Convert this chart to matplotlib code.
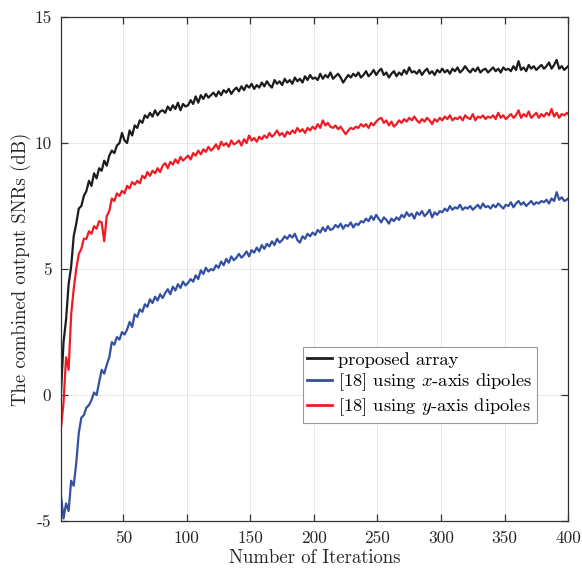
import matplotlib
matplotlib.use("Agg")
import matplotlib.pyplot as plt

plt.rcParams['font.family'] = 'serif'
plt.rcParams['font.serif'] = ['cmr10', 'DejaVu Serif']
plt.rcParams['mathtext.fontset'] = 'cm'
plt.rcParams['axes.unicode_minus'] = False

iterations = [*range(1, 400, 2), 400]

proposed = [
    0.1, 2.1, 3.0, 4.4, 5.1, 6.3, 6.8, 7.4, 7.5, 7.9,
    8.1, 8.5, 8.3, 8.8, 8.6, 9.0, 8.9, 9.3, 9.1, 9.5,
    9.7, 9.6, 9.9, 10.0, 10.4, 10.1, 10.0, 10.5, 10.3, 10.7,
    10.6, 10.9, 10.8, 11.1, 11.0, 11.2, 11.05, 11.3, 11.1, 11.25,
    11.3, 11.2, 11.45, 11.3, 11.5, 11.35, 11.6, 11.3, 11.55, 11.45,
    11.5, 11.7, 11.55, 11.85, 11.6, 11.9, 11.75, 11.95, 11.8, 11.9,
    12.0, 11.85, 12.05, 11.9, 12.1, 12.0, 12.15, 11.95, 12.1, 12.2,
    12.05, 12.25, 12.1, 12.3, 12.2, 12.35, 12.15, 12.3, 12.2, 12.4,
    12.25, 12.45, 12.3, 12.2, 12.5, 12.35, 12.45, 12.3, 12.55, 12.4,
    12.5, 12.35, 12.6, 12.45, 12.55, 12.4, 12.65, 12.5, 12.7, 12.55,
    12.6, 12.5, 12.75, 12.55, 12.7, 12.6, 12.8, 12.55, 12.65, 12.75,
    12.6, 12.4, 12.55, 12.7, 12.6, 12.75, 12.65, 12.8, 12.6, 12.7,
    12.85, 12.65, 12.75, 12.9, 12.7, 12.85, 12.95, 12.7, 12.8, 12.6,
    12.75, 12.85, 12.65, 12.8, 12.7, 12.9, 12.75, 13.0, 12.8, 12.85,
    12.75, 12.9, 12.7, 12.85, 12.95, 12.75, 12.85, 12.7, 12.9, 12.8,
    12.95, 12.8, 12.9, 12.75, 12.95, 12.85, 13.0, 12.8, 12.9, 13.05,
    12.9, 12.8, 12.95, 12.85, 13.0, 12.8, 12.9, 12.95, 12.8, 12.9,
    13.0, 12.85, 12.95, 12.8, 13.0, 12.9, 12.95, 12.85, 13.05, 12.9,
    13.25, 12.9, 13.0, 12.85, 13.1, 12.95, 13.05, 12.9, 13.0, 13.1,
    12.95, 13.05, 13.2, 12.95, 13.1, 13.3, 12.95, 13.05, 12.9, 13.0,
    13.05,
]

x_dipoles = [
    -4.0, -4.9, -4.3, -4.6, -3.4, -3.6, -2.7, -1.5, -0.9, -0.8,
    -0.5, -0.4, -0.2, 0.1, 0.0, 0.5, 1.0, 0.85, 1.2, 1.5,
    2.1, 2.0, 2.3, 2.2, 2.5, 2.4, 2.6, 2.9, 2.7, 3.2,
    3.1, 3.4, 3.3, 3.6, 3.5, 3.8, 3.65, 3.9, 3.75, 4.0,
    3.85, 4.05, 4.2, 4.0, 4.3, 4.15, 4.4, 4.25, 4.5, 4.35,
    4.45, 4.6, 4.5, 4.75, 4.6, 4.95, 4.8, 5.05, 4.9, 5.0,
    4.95, 5.15, 5.05, 5.3, 5.15, 5.4, 5.25, 5.5, 5.35, 5.45,
    5.6, 5.45, 5.55, 5.7, 5.5, 5.75, 5.65, 5.85, 5.7, 5.95,
    5.8, 6.0, 5.9, 6.1, 5.95, 6.2, 6.05, 6.15, 6.3, 6.2,
    6.35, 6.25, 6.4, 6.15, 6.05, 6.3, 6.2, 6.4, 6.3, 6.45,
    6.35, 6.55, 6.45, 6.65, 6.5, 6.7, 6.55, 6.6, 6.75, 6.65,
    6.8, 6.6, 6.75, 6.7, 6.85, 6.65, 6.8, 6.75, 6.9, 6.85,
    7.0, 6.9, 7.1, 6.95, 7.15, 7.0, 6.85, 7.05, 6.95, 6.8,
    7.0, 6.9, 7.05, 6.95, 7.15, 7.05, 7.25, 7.1, 7.2, 7.0,
    7.25, 7.15, 7.3, 7.1, 7.2, 7.35, 7.05, 7.25, 7.15, 7.3,
    7.25, 7.4, 7.3, 7.5, 7.35, 7.45, 7.4, 7.55, 7.35, 7.45,
    7.4, 7.5, 7.35, 7.45, 7.55, 7.4, 7.6, 7.45, 7.5, 7.4,
    7.55, 7.45, 7.6, 7.5, 7.4, 7.55, 7.5, 7.65, 7.45, 7.6,
    7.7, 7.55, 7.65, 7.5, 7.6, 7.7, 7.55, 7.65, 7.6, 7.7,
    7.65, 7.75, 7.6, 7.8, 7.7, 8.05, 7.75, 7.85, 7.7, 7.75,
    7.8,
]

y_dipoles = [
    -1.3, -0.3, 1.5, 1.0, 3.2, 4.2, 5.0, 5.6, 5.8, 6.2,
    6.2, 6.5, 6.4, 6.7, 6.6, 6.9, 6.85, 6.1, 7.1, 7.3,
    7.8, 7.7, 8.0, 7.9, 8.1, 8.0, 8.3, 8.2, 8.45, 8.35,
    8.5, 8.4, 8.7, 8.6, 8.85, 8.7, 8.9, 8.8, 9.0, 8.85,
    9.1, 9.2, 9.0, 9.25, 9.15, 9.35, 9.2, 9.45, 9.3, 9.4,
    9.5, 9.35, 9.6, 9.5, 9.7, 9.55, 9.75, 9.65, 9.85, 9.7,
    9.8, 9.95, 9.75, 10.05, 9.9, 10.0, 9.85, 10.1, 9.95, 10.0,
    10.1, 9.9, 10.15, 10.0, 10.3, 10.1, 10.2, 10.05, 10.25, 10.15,
    10.3, 10.2, 10.4, 10.25, 10.35, 10.5, 10.3, 10.4, 10.25, 10.45,
    10.35, 10.5, 10.4, 10.6, 10.45, 10.55, 10.4, 10.6, 10.5, 10.65,
    10.55, 10.75, 10.6, 10.9, 10.7, 10.8, 10.65, 10.6, 10.7, 10.55,
    10.65, 10.5, 10.35, 10.5, 10.6, 10.55, 10.65, 10.6, 10.75, 10.65,
    10.75, 10.6, 10.8, 10.7, 10.85, 10.95, 11.0, 10.8, 10.9, 10.7,
    10.85, 10.65, 10.75, 10.9, 10.8, 10.95, 10.85, 11.0, 10.9, 11.05,
    10.9, 10.8, 10.95, 10.85, 11.0, 10.9, 10.75, 10.95, 10.85, 11.0,
    10.9, 11.05, 10.95, 11.1, 10.9, 11.0, 10.95, 11.05, 10.9, 11.1,
    11.0, 10.95, 11.15, 10.9, 11.05, 11.0, 11.1, 10.95, 11.05, 11.0,
    11.1, 10.95, 11.2, 11.0, 11.1, 10.95, 11.05, 11.15, 11.0, 11.1,
    11.3, 11.0, 11.15, 11.05, 11.25, 11.0, 11.1, 11.2, 11.0, 11.15,
    11.05, 11.2, 11.1, 11.35, 11.05, 11.2, 11.0, 11.15, 11.1, 11.2,
    11.15,
]

labels = ['proposed array', '[18] using $x$-axis dipoles', '[18] using $y$-axis dipoles']
colors = ['#1c1c1c', '#3350a3', '#ee1c25']
xticks = [50, 100, 150, 200, 250, 300, 350, 400]
yticks = [-5, 0, 5, 10, 15]
ytick_labels = ['-5', '0', '5', '10', '15']

fig = plt.figure(figsize=(5.82, 5.68), dpi=100)
ax = fig.add_axes([0.1048, 0.0827, 0.8713, 0.8873])

ax.plot(iterations, proposed, color=colors[0], lw=1.6, label=labels[0])
ax.plot(iterations, x_dipoles, color=colors[1], lw=1.6, label=labels[1])
ax.plot(iterations, y_dipoles, color=colors[2], lw=1.6, label=labels[2])

ax.set_xlim(1, 400)
ax.set_ylim(-5, 15)
ax.set_xticks(xticks)
ax.set_xticklabels([str(t) for t in xticks])
ax.set_yticks(yticks)
ax.set_yticklabels(ytick_labels)

ax.grid(True, color='#e4e4e4', lw=0.6)
ax.set_axisbelow(True)
for s in ax.spines.values():
    s.set_color('#333333')
    s.set_linewidth(0.9)
ax.tick_params(direction='in', top=True, right=True, length=5, width=0.9,
               colors='#333333', labelsize=12.5, labelcolor='#262626', pad=7)

ax.set_xlabel('Number of Iterations', fontsize=13.5, color='#262626', labelpad=2.5)
ax.set_ylabel('The combined output SNRs (dB)', fontsize=13.5, color='#262626', labelpad=2)

leg = ax.legend(loc='upper left', bbox_to_anchor=(0.477, 0.345), borderaxespad=0,
                fontsize=13.3, frameon=True, fancybox=False, framealpha=1,
                edgecolor='#999999', handlelength=1.35, handletextpad=0.3,
                labelspacing=0.2, borderpad=0.25)
leg.get_frame().set_linewidth(0.8)
for line in leg.get_lines():
    line.set_linewidth(2.0)

fig.savefig('out.png', dpi=100)
